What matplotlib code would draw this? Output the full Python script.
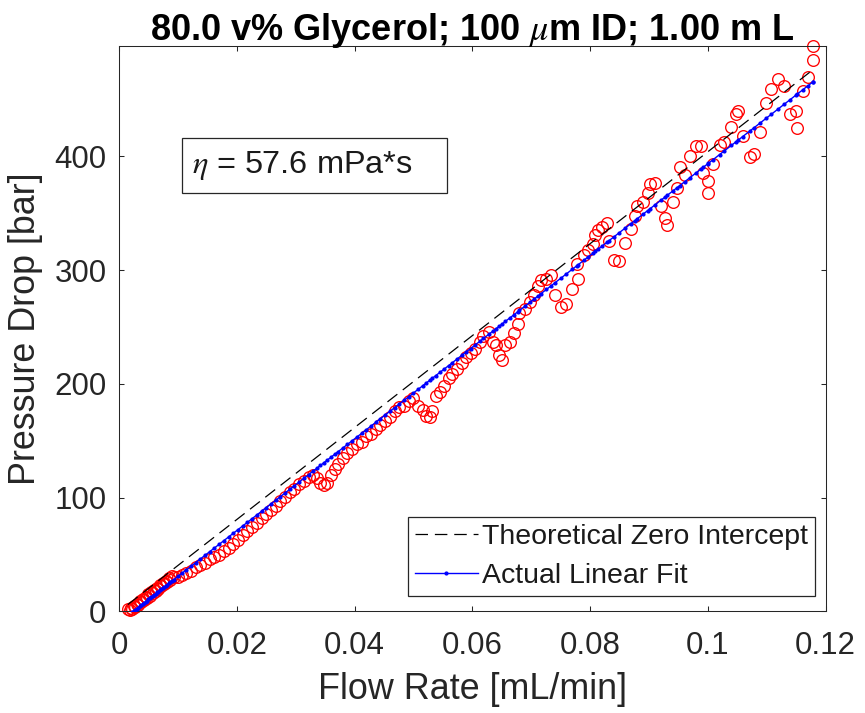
import matplotlib.pyplot as plt
import matplotlib.patches as patches
import numpy as np

flow_rate = [
    0.0015, 0.0018, 0.0020, 0.0022, 0.0025, 0.0027, 0.0030, 0.0032, 0.0035, 0.0037,
    0.0040, 0.0042, 0.0045, 0.0047, 0.0050, 0.0052, 0.0055, 0.0057, 0.0060, 0.0062,
    0.0065, 0.0067, 0.0070, 0.0072, 0.0075, 0.0077, 0.0080, 0.0082, 0.0085, 0.0087,
    0.0090, 0.0093,
    0.0100, 0.0107, 0.0114, 0.0122, 0.0130, 0.0138, 0.0146, 0.0154, 0.0162, 0.0170,
    0.0178, 0.0186, 0.0194, 0.0202, 0.0210, 0.0218, 0.0226, 0.0234, 0.0242, 0.0250,
    0.0258, 0.0266, 0.0274, 0.0282, 0.0290, 0.0298, 0.0306, 0.0314, 0.0322, 0.0330,
    0.0336, 0.0342, 0.0348, 0.0354, 0.0360, 0.0366, 0.0372, 0.0380, 0.0388, 0.0396,
    0.0404, 0.0412, 0.0420, 0.0428, 0.0436, 0.0444, 0.0452, 0.0460, 0.0468, 0.0476,
    0.0484, 0.0492, 0.0500, 0.0508, 0.0516, 0.0522, 0.0528, 0.0532, 0.0538, 0.0546,
    0.0552,
    0.0560, 0.0565, 0.0574, 0.0582, 0.0590, 0.0597, 0.0604, 0.0613, 0.0619, 0.0628,
    0.0636, 0.0640, 0.0646, 0.0650, 0.0656, 0.0664, 0.0670, 0.0677, 0.0680, 0.0690,
    0.0698, 0.0705, 0.0712, 0.0716, 0.0726, 0.0733, 0.0740, 0.0750, 0.0760, 0.0770,
    0.0778, 0.0780, 0.0789, 0.0797, 0.0805, 0.0809, 0.0813, 0.0820, 0.0829, 0.0832,
    0.0840, 0.0849, 0.0859, 0.0869, 0.0876, 0.0880, 0.0890, 0.0898, 0.0902, 0.0911,
    0.0921, 0.0927, 0.0931, 0.0941, 0.0948, 0.0952, 0.0961, 0.0969, 0.0980, 0.0989,
    0.0992, 0.1000, 0.1001, 0.1009, 0.1020, 0.1028, 0.1040, 0.1048, 0.1051, 0.1059,
    0.1071, 0.1079, 0.1088, 0.1099, 0.1108, 0.1119, 0.1130, 0.1139, 0.1150, 0.1152,
    0.1161, 0.1170, 0.1178, 0.1179,
]
pressure_drop = [
    2, 1, 3, 2, 5, 4, 7, 6, 9, 8,
    11, 10, 13, 12, 15, 14, 17, 16, 19, 18,
    21, 20, 23, 22, 25, 24, 27, 26, 29, 28,
    31, 30,
    30, 32, 34, 36, 39, 41, 43, 46, 48, 50,
    53, 56, 59, 63, 67, 71, 74, 78, 82, 86,
    89, 93, 97, 101, 105, 108, 112, 115, 118, 120,
    117, 113, 111, 113, 120, 125, 130, 135, 139, 143,
    147, 149, 154, 156, 160, 164, 167, 171, 176, 180,
    181, 185, 188, 181, 177, 172, 171, 176, 189, 193,
    198,
    205, 209, 213, 218, 224, 227, 231, 237, 242, 246,
    237, 234, 225, 221, 234, 237, 245, 253, 262, 266,
    272, 278, 286, 291, 292, 296, 278, 268, 270, 283,
    305, 292, 313, 318, 323, 331, 335, 338, 341, 326,
    309, 308, 324, 336, 348, 356, 360, 368, 376, 377,
    356, 346, 340, 360, 372, 391, 384, 400, 409, 409,
    385, 378, 368, 393, 410, 413, 426, 437, 440, 418,
    399, 402, 421, 447, 459, 468, 462, 437, 440, 425,
    457, 470, 485, 497,
]

# line coefficients [bar per mL/min]
theory_slope = 4040.0
fit_slope = 4030.0
fit_intercept = -9.5
viscosity_label = r'$\eta$ = 57.6 mPa*s'

q = np.array(flow_rate)
dp = np.array(pressure_drop)
order = np.argsort(q)
q_sorted = q[order]

plt.rcParams['font.family'] = ['Liberation Sans', 'DejaVu Sans']
plt.rcParams['mathtext.fontset'] = 'stix'
axis_color = '#262626'

fig = plt.figure(figsize=(8.65, 7.13), dpi=100)
ax = fig.add_axes([0.1376, 0.1424, 0.8168, 0.7931])

ax.plot(q, dp, 'o', mfc='none', mec='red', ms=8.4, mew=0.95, clip_on=False, zorder=2)
theory, = ax.plot(q_sorted, theory_slope * q_sorted, '--', color='black', lw=0.9,
                  dashes=(10, 5.5), zorder=3, label='Theoretical Zero Intercept')
fit, = ax.plot(q_sorted, fit_slope * q_sorted + fit_intercept, '.-', color='blue',
               lw=1.0, ms=4, zorder=4, label='Actual Linear Fit')

ax.set_xlim(0, 0.12)
ax.set_ylim(0, dp.max())
ax.set_xticks([0, 0.02, 0.04, 0.06, 0.08, 0.1, 0.12])
ax.set_xticklabels(['0', '0.02', '0.04', '0.06', '0.08', '0.1', '0.12'])
ax.set_yticks([0, 100, 200, 300, 400])

ax.tick_params(direction='in', length=3.6, width=0.75, top=True, right=True,
               labelsize=22.5, colors=axis_color)
ax.tick_params(axis='x', pad=14)
ax.tick_params(axis='y', pad=9)
for s in ax.spines.values():
    s.set_color(axis_color)
    s.set_linewidth(0.75)

ax.set_xlabel('Flow Rate [mL/min]', fontsize=25.8, color=axis_color, labelpad=8)
ax.set_ylabel('Pressure Drop [bar]', fontsize=25.8, color=axis_color)
ax.yaxis.set_label_coords(-0.107, 0.5)
ax.set_title(r'80.0 v% Glycerol; 100 $\mu$m ID; 1.00 m L', fontsize=26,
             fontweight='bold', pad=4)

leg = ax.legend(handles=[theory, fit], loc='lower right', bbox_to_anchor=(0.985, 0.027),
                borderaxespad=0, fontsize=20.5, fancybox=False, framealpha=1,
                edgecolor=axis_color, handlelength=2.2, handletextpad=0.15,
                borderpad=0.25, labelspacing=0.45)
leg.get_frame().set_linewidth(0.9)
for t in leg.get_texts():
    t.set_color('#1a1a1a')

box = patches.Rectangle((0.0887, 0.7395), 0.3751, 0.0973, transform=ax.transAxes,
                        fill=False, edgecolor=axis_color, lw=0.9)
ax.add_patch(box)
ax.text(0.1033, 0.788, viscosity_label, transform=ax.transAxes, ha='left', va='center',
        fontsize=23.4, color='#1a1a1a')

fig.savefig('out.png', dpi=100)
